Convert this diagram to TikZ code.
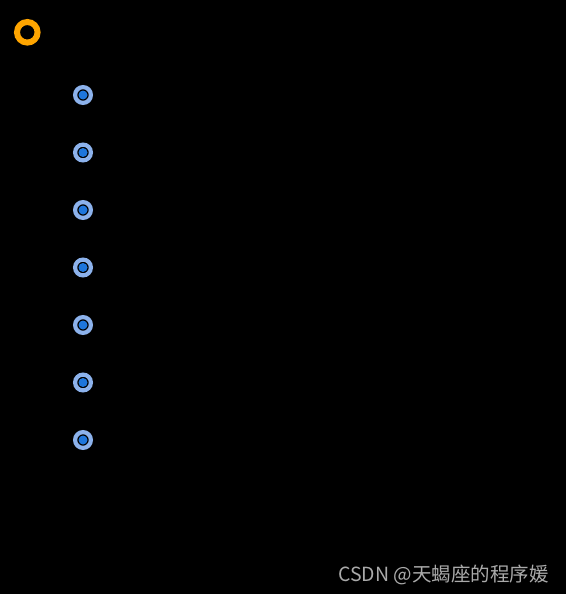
\documentclass[tikz,border=0pt]{standalone}
\usepackage{fontspec}
\newfontfamily\cjk{Noto Sans CJK SC}
\definecolor{ringorange}{RGB}{255,165,0}
\definecolor{ringblue}{RGB}{140,178,236}
\definecolor{dotblue}{RGB}{30,118,220}
\definecolor{markgray}{RGB}{170,170,170}
\begin{document}
\begin{tikzpicture}[x=1pt,y=-1pt]
            \tikzstyle{every node}+=[inner sep=0pt]
            \tikzstyle{start}=[circle, draw=ringorange, line width=6pt, minimum size=20.6pt]
            \tikzstyle{ring}=[circle, draw=ringblue, line width=4.2pt, minimum size=15.8pt]
            \tikzstyle{dot}=[circle, fill=dotblue, minimum size=9pt]
            \fill [black] (0,0) rectangle (566,594);
            \useasboundingbox (0,0) rectangle (566,594);
            \node [start] (s) at (27.3,32.3) {};
            \node [ring] (p1) at (83,95) {};
            \node [dot] at (p1) {};
            \node [ring] (p2) at (83,152.5) {};
            \node [dot] at (p2) {};
            \node [ring] (p3) at (83,210) {};
            \node [dot] at (p3) {};
            \node [ring] (p4) at (83,267.5) {};
            \node [dot] at (p4) {};
            \node [ring] (p5) at (83,325) {};
            \node [dot] at (p5) {};
            \node [ring] (p6) at (83,382.5) {};
            \node [dot] at (p6) {};
            \node [ring] (p7) at (83,440) {};
            \node [dot] at (p7) {};
            \node [anchor=east, text=markgray, font=\cjk\fontsize{19.5}{20}\selectfont] (mark) at (549,574.5) {CSDN @天蝎座的程序媛};
        \end{tikzpicture}
\end{document}
